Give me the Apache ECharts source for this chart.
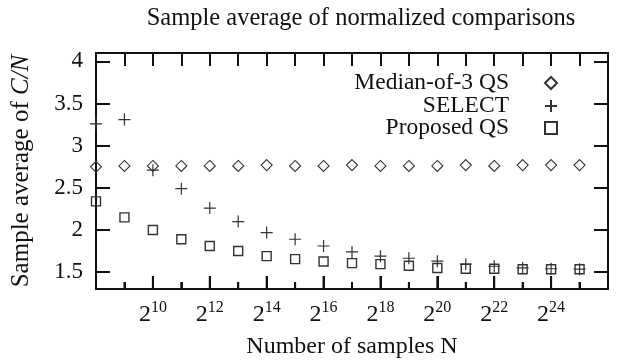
<!DOCTYPE html>
<html lang="en">
<head>
<meta charset="UTF-8">
<title>Sample average of normalized comparisons</title>
<script src="https://cdn.jsdelivr.net/npm/echarts@6/dist/echarts.min.js"></script>
<style>
  html, body { margin: 0; padding: 0; background: #fff; }
</style>
</head>
<body>
<div id="main" style="width: 618px; height: 361px"></div>
<script type="text/javascript">
// log2 of the number of samples
var exponents = [8, 9, 10, 11, 12, 13, 14, 15, 16, 17, 18, 19, 20, 21, 22, 23, 24, 25];
var medianOf3 = [2.75, 2.76, 2.76, 2.76, 2.76, 2.76, 2.77, 2.76, 2.76, 2.77, 2.76, 2.76, 2.76, 2.77, 2.76, 2.77, 2.77, 2.77];
var selectQs = [3.26, 3.31, 2.71, 2.49, 2.26, 2.10, 1.97, 1.89, 1.81, 1.74, 1.69, 1.665, 1.63, 1.595, 1.57, 1.55, 1.54, 1.535];
var proposedQs = [2.34, 2.15, 2.00, 1.89, 1.81, 1.75, 1.69, 1.655, 1.627, 1.607, 1.595, 1.575, 1.55, 1.54, 1.54, 1.535, 1.535, 1.535];
var yTicks = [1.5, 2, 2.5, 3, 3.5, 4];
var xLabels = [10, 12, 14, 16, 18, 20, 22, 24];
var xTicks = [9, 10, 11, 12, 13, 14, 15, 16, 17, 18, 19, 20, 21, 22, 23, 24, 25];

var serif = 'Liberation Serif';
var ink = '#111';
var yMin = 1.3, yMax = 4.1;

function pairs(ys) {
    return exponents.map(function (e, i) { return [e, ys[i]]; });
}

function legendFor(name, top) {
    return {
        data: [name],
        right: 55,
        top: top,
        align: 'right',
        orient: 'vertical',
        itemWidth: 12,
        itemHeight: 12,
        selectedMode: false,
        textStyle: {
            fontFamily: serif, fontSize: 23.5, color: ink,
            padding: [0, 31, 0, 0]
        }
    };
}

// tick marks of the bottom frame, placed through the x scale
function bottomTick(params, api) {
    var v = api.value(0);
    var p = api.coord([v, yMin]);
    var len = v % 2 === 0 ? 13 : 7;
    return {
        type: 'line',
        shape: { x1: p[0], y1: p[1], x2: p[0], y2: p[1] - len },
        style: { stroke: ink, lineWidth: 2 }
    };
}

var chart = echarts.init(document.getElementById('main'));
chart.setOption({
    animation: false,
    backgroundColor: '#fff',
    title: {
        text: 'Sample average of normalized comparisons',
        left: 356, top: 1, textAlign: 'center',
        textStyle: { fontFamily: serif, fontSize: 24.5, fontWeight: 'normal', color: ink }
    },
    legend: [
        legendFor('Median-of-3 QS', 66),
        legendFor('SELECT', 89),
        legendFor('Proposed QS', 111)
    ],
    grid: { left: 96, right: 10, top: 53, bottom: 72, outerBoundsMode: 'none', containLabel: false },
    xAxis: [{
        type: 'value', min: 8, max: 26, interval: 2, position: 'bottom',
        name: 'Number of samples N', nameLocation: 'middle', nameGap: 46,
        nameTextStyle: { fontFamily: serif, fontSize: 24, color: ink },
        axisLine: { onZero: false, lineStyle: { color: ink, width: 2 } },
        axisTick: { show: true, inside: true, length: 13, lineStyle: { color: ink, width: 2 } },
        minorTick: { show: true, splitNumber: 2, length: 7, lineStyle: { color: ink, width: 2 } },
        splitLine: { show: false },
        axisLabel: {
            margin: 11,
            formatter: function (v) {
                return xLabels.indexOf(v) >= 0 ? '{b|2}{s|' + v + '}' : '';
            },
            rich: {
                b: { fontFamily: serif, fontSize: 24, color: ink, lineHeight: 30 },
                s: { fontFamily: serif, fontSize: 16, color: ink, lineHeight: 16, verticalAlign: 'top' }
            }
        }
    }, {
        type: 'value', min: 8, max: 26, interval: 2, position: 'top',
        axisLine: { onZero: false, lineStyle: { color: ink, width: 2 } },
        axisTick: { show: true, inside: true, length: 13, lineStyle: { color: ink, width: 2 } },
        minorTick: { show: true, splitNumber: 2, length: 13, lineStyle: { color: ink, width: 2 } },
        splitLine: { show: false },
        axisLabel: { show: false }
    }],
    yAxis: [{
        type: 'value', min: yMin, max: yMax,
        name: '{n|Sample average of }{i|C/N}', nameLocation: 'middle', nameGap: 62,
        nameTextStyle: {
            rich: {
                n: { fontFamily: serif, fontSize: 25, color: ink },
                i: { fontFamily: serif, fontSize: 25, color: ink, fontStyle: 'italic' }
            }
        },
        axisLine: { onZero: false, lineStyle: { color: ink, width: 2 } },
        axisTick: { show: true, inside: true, length: 14, customValues: yTicks, lineStyle: { color: ink, width: 2 } },
        splitLine: { show: false },
        axisLabel: {
            customValues: yTicks, margin: 13,
            fontFamily: serif, fontSize: 23, color: ink
        }
    }, {
        type: 'value', min: yMin, max: yMax, position: 'right',
        axisLine: { onZero: false, lineStyle: { color: ink, width: 2 } },
        axisTick: { show: true, inside: true, length: 14, customValues: yTicks, lineStyle: { color: ink, width: 2 } },
        splitLine: { show: false },
        axisLabel: { show: false }
    }],
    series: [{
        name: 'Median-of-3 QS', type: 'scatter', symbol: 'diamond', symbolSize: [11, 11],
        itemStyle: { color: 'rgba(255,255,255,0)', borderColor: '#333', borderWidth: 1.1, opacity: 1 },
        data: pairs(medianOf3)
    }, {
        name: 'SELECT', type: 'scatter', symbol: 'path://M0,6L12,6M6,0L6,12', symbolSize: 12,
        itemStyle: { color: 'rgba(255,255,255,0)', borderColor: '#333', borderWidth: 1.2, opacity: 1 },
        data: pairs(selectQs)
    }, {
        name: 'Proposed QS', type: 'scatter', symbol: 'rect', symbolSize: 9,
        itemStyle: { color: 'rgba(255,255,255,0)', borderColor: '#333', borderWidth: 1.4, opacity: 1 },
        data: pairs(proposedQs)
    }, {
        name: 'frame ticks', type: 'custom', silent: true, clip: false, z: 5,
        renderItem: bottomTick,
        encode: { x: 0, y: 1 },
        data: xTicks.map(function (v) { return [v, yMin]; })
    }]
});
</script>
</body>
</html>
